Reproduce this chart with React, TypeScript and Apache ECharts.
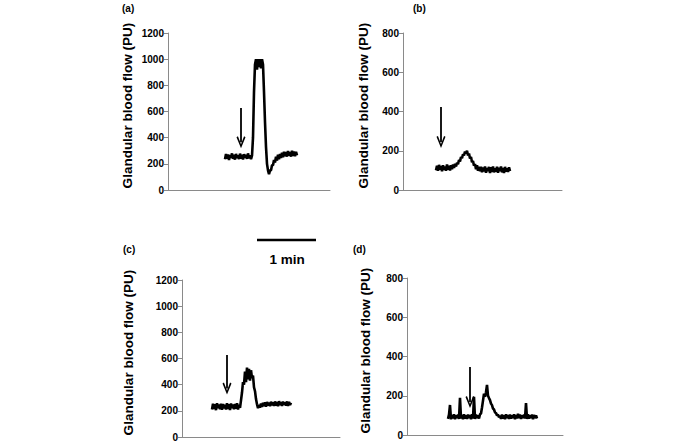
import React, { useEffect, useRef } from "react";
import * as echarts from "echarts";

// time in seconds (x), flow in PU (y)
const panelLabels = ["(a)", "(b)", "(c)", "(d)"];
const yAxisName = "Glandular blood flow (PU)";
const yMaxA = 1200;
const yMaxB = 800;
const yMaxC = 1200;
const yMaxD = 800;
const xMaxA = 162;
const xMaxB = 159;
const xMaxC = 158;
const xMaxD = 156;

const startA = 57;
const flowA = [
  235, 275, 240, 272, 230, 268, 245, 280, 238, 270, 232, 276, 244, 266, 236, 278, 240, 270, 234, 274,
  246, 268, 238, 280, 242, 266, 236, 262,
  400, 750, 960, 1000, 920, 1000, 940, 1000, 930, 1000,
  960, 750, 520, 330, 200, 150, 120, 150, 150, 190,
  190, 230, 210, 255, 225, 270, 235, 275, 245, 285,
  250, 292, 258, 290, 255, 298, 262, 290, 255, 300,
  260, 295, 258, 292, 265,
];

const startB = 33;
const flowB = [
  100, 124, 98, 128, 104, 122, 96, 126, 102, 120, 98, 130, 104, 124, 100, 126, 106, 130, 112, 134, 120,
  138, 132, 152, 146, 168, 162, 182, 176, 196, 186, 200,
  176, 186, 160, 168, 142, 148, 124, 132, 106, 126, 98, 118, 96,
  118, 90, 114, 94, 120, 88, 112, 96, 118, 86, 116, 92, 120, 90, 110, 94, 118, 88, 114, 96,
  120, 90, 112, 86, 118, 94, 110, 92, 116, 96,
];

const startC = 30;
const flowC = [
  210, 255, 215, 250, 205, 258, 220, 248, 212, 254, 208, 252, 218, 246, 210, 258, 214, 250, 206, 256,
  220, 248, 212, 252, 216, 258, 210, 246, 222,
  280, 340, 420, 400,
  500, 420, 530, 440, 520, 430, 510, 450,
  470, 380, 350, 290, 250, 220, 245, 225,
  255, 230, 262, 236, 265, 232, 268, 240, 262, 236, 270, 242, 265, 238, 272, 240, 268, 236, 274, 244,
  266, 238, 270, 246, 264, 240, 272, 238, 268, 244, 262,
];

const startD = 41;
const flowD = [
  82, 104, 153, 80, 102, 84, 106, 80, 100, 86, 104, 82, 189, 84, 102, 80, 106, 84, 100, 82,
  104, 86, 102, 80, 106, 84, 194, 82, 104, 86, 100, 84, 106, 110,
  140, 175, 210, 195, 218, 255, 200, 188, 178, 160, 152, 135, 130, 115, 112, 100, 104, 90, 98,
  82, 104, 84, 100, 80, 106, 86, 102, 82, 104, 84, 100, 86, 106, 80, 102, 84, 108, 86, 104,
  82, 100, 86, 104, 84, 163, 82, 106, 84, 100, 86, 104, 80, 102, 86, 100, 84,
];

// arrow (injection time): [time, top value, tip value]
const arrowA = [73, 627, 365];
const arrowB = [38, 423, 245];
const arrowC = [45, 627, 370];
const arrowD = [63, 346, 168];

const scaleBarLabel = "1 min";

const FONT = "Liberation Sans, Arial, sans-serif";
const arrowHead = "path://M5,0 L10,10 L8.4,10.8 L5,3.6 L1.6,10.8 L0,10 Z";

function toData(start: number, vals: number[]) {
  return vals.map((v, i) => [start + i, v]);
}

const grids = [
  { left: 168, top: 33, width: 162, height: 157 },
  { left: 403, top: 33, width: 159, height: 157 },
  { left: 182, top: 280, width: 158, height: 157 },
  { left: 407, top: 278, width: 156, height: 157 },
];
const nameGaps = [34, 33, 47, 35];

export default function App() {
  const ref = useRef<HTMLDivElement>(null);
  useEffect(() => {
    if (!ref.current) return;
    const chart = echarts.init(ref.current, null, { renderer: "svg" });
    const yMaxes = [yMaxA, yMaxB, yMaxC, yMaxD];
    const xMaxes = [xMaxA, xMaxB, xMaxC, xMaxD];
    const datas = [
      toData(startA, flowA),
      toData(startB, flowB),
      toData(startC, flowC),
      toData(startD, flowD),
    ];
    const arrows = [arrowA, arrowB, arrowC, arrowD];
    chart.setOption({
      animation: false,
      backgroundColor: "#ffffff",
      grid: grids.map((g) => ({ ...g, containLabel: false })),
      xAxis: xMaxes.map((m, i) => ({
        type: "value",
        gridIndex: i,
        min: 0,
        max: m,
        axisLine: { show: true, onZero: false, lineStyle: { color: "#8a8a8a", width: 1 } },
        axisTick: { show: false },
        axisLabel: { show: false },
        splitLine: { show: false },
      })),
      yAxis: yMaxes.map((m, i) => ({
        type: "value",
        gridIndex: i,
        min: 0,
        max: m,
        interval: 200,
        name: yAxisName,
        nameLocation: "middle",
        nameGap: nameGaps[i],
        nameTextStyle: {
          fontFamily: FONT,
          fontWeight: "bold",
          fontSize: 13.5,
          color: "#000",
          padding: [0, 0, 0, 12],
        },
        axisLine: { show: true, lineStyle: { color: "#8a8a8a", width: 1 } },
        axisTick: { show: true, length: 4, lineStyle: { color: "#8a8a8a" } },
        axisLabel: {
          fontFamily: FONT,
          fontWeight: "bold",
          fontSize: 10,
          color: "#000",
          margin: 4,
          formatter: (v: number) => String(v),
        },
        splitLine: { show: false },
      })),
      series: datas.map((d, i) => ({
        type: "line",
        xAxisIndex: i,
        yAxisIndex: i,
        data: d,
        showSymbol: false,
        lineStyle: { color: "#000", width: 2.6 },
        markLine: {
          silent: true,
          symbol: ["none", arrowHead],
          symbolSize: [9, 12],
          label: { show: false },
          lineStyle: { color: "#000", width: 1.8, type: "solid" },
          data: [
            [
              { coord: [arrows[i][0], arrows[i][1]] },
              { coord: [arrows[i][0], arrows[i][2]] },
            ],
          ],
        },
      })),
      graphic: [
        ...panelLabels.map((t, i) => ({
          type: "text",
          left: [122, 413, 123, 353][i],
          top: [3, 3, 244, 244][i],
          style: { text: t, font: `bold 10px ${FONT}`, fill: "#000" },
        })),
        {
          type: "line",
          shape: { x1: 257, y1: 240, x2: 316, y2: 240 },
          style: { stroke: "#000", lineWidth: 2.5 },
        },
        {
          type: "text",
          x: 287,
          y: 259,
          style: {
            text: scaleBarLabel,
            font: `bold 13.5px ${FONT}`,
            fill: "#000",
            align: "center",
            verticalAlign: "middle",
          },
        },
      ],
    });
    return () => chart.dispose();
  }, []);
  return (
    <div
      ref={ref}
      style={{ position: "fixed", left: 0, top: 0, width: 685, height: 443, background: "#fff" }}
    />
  );
}
